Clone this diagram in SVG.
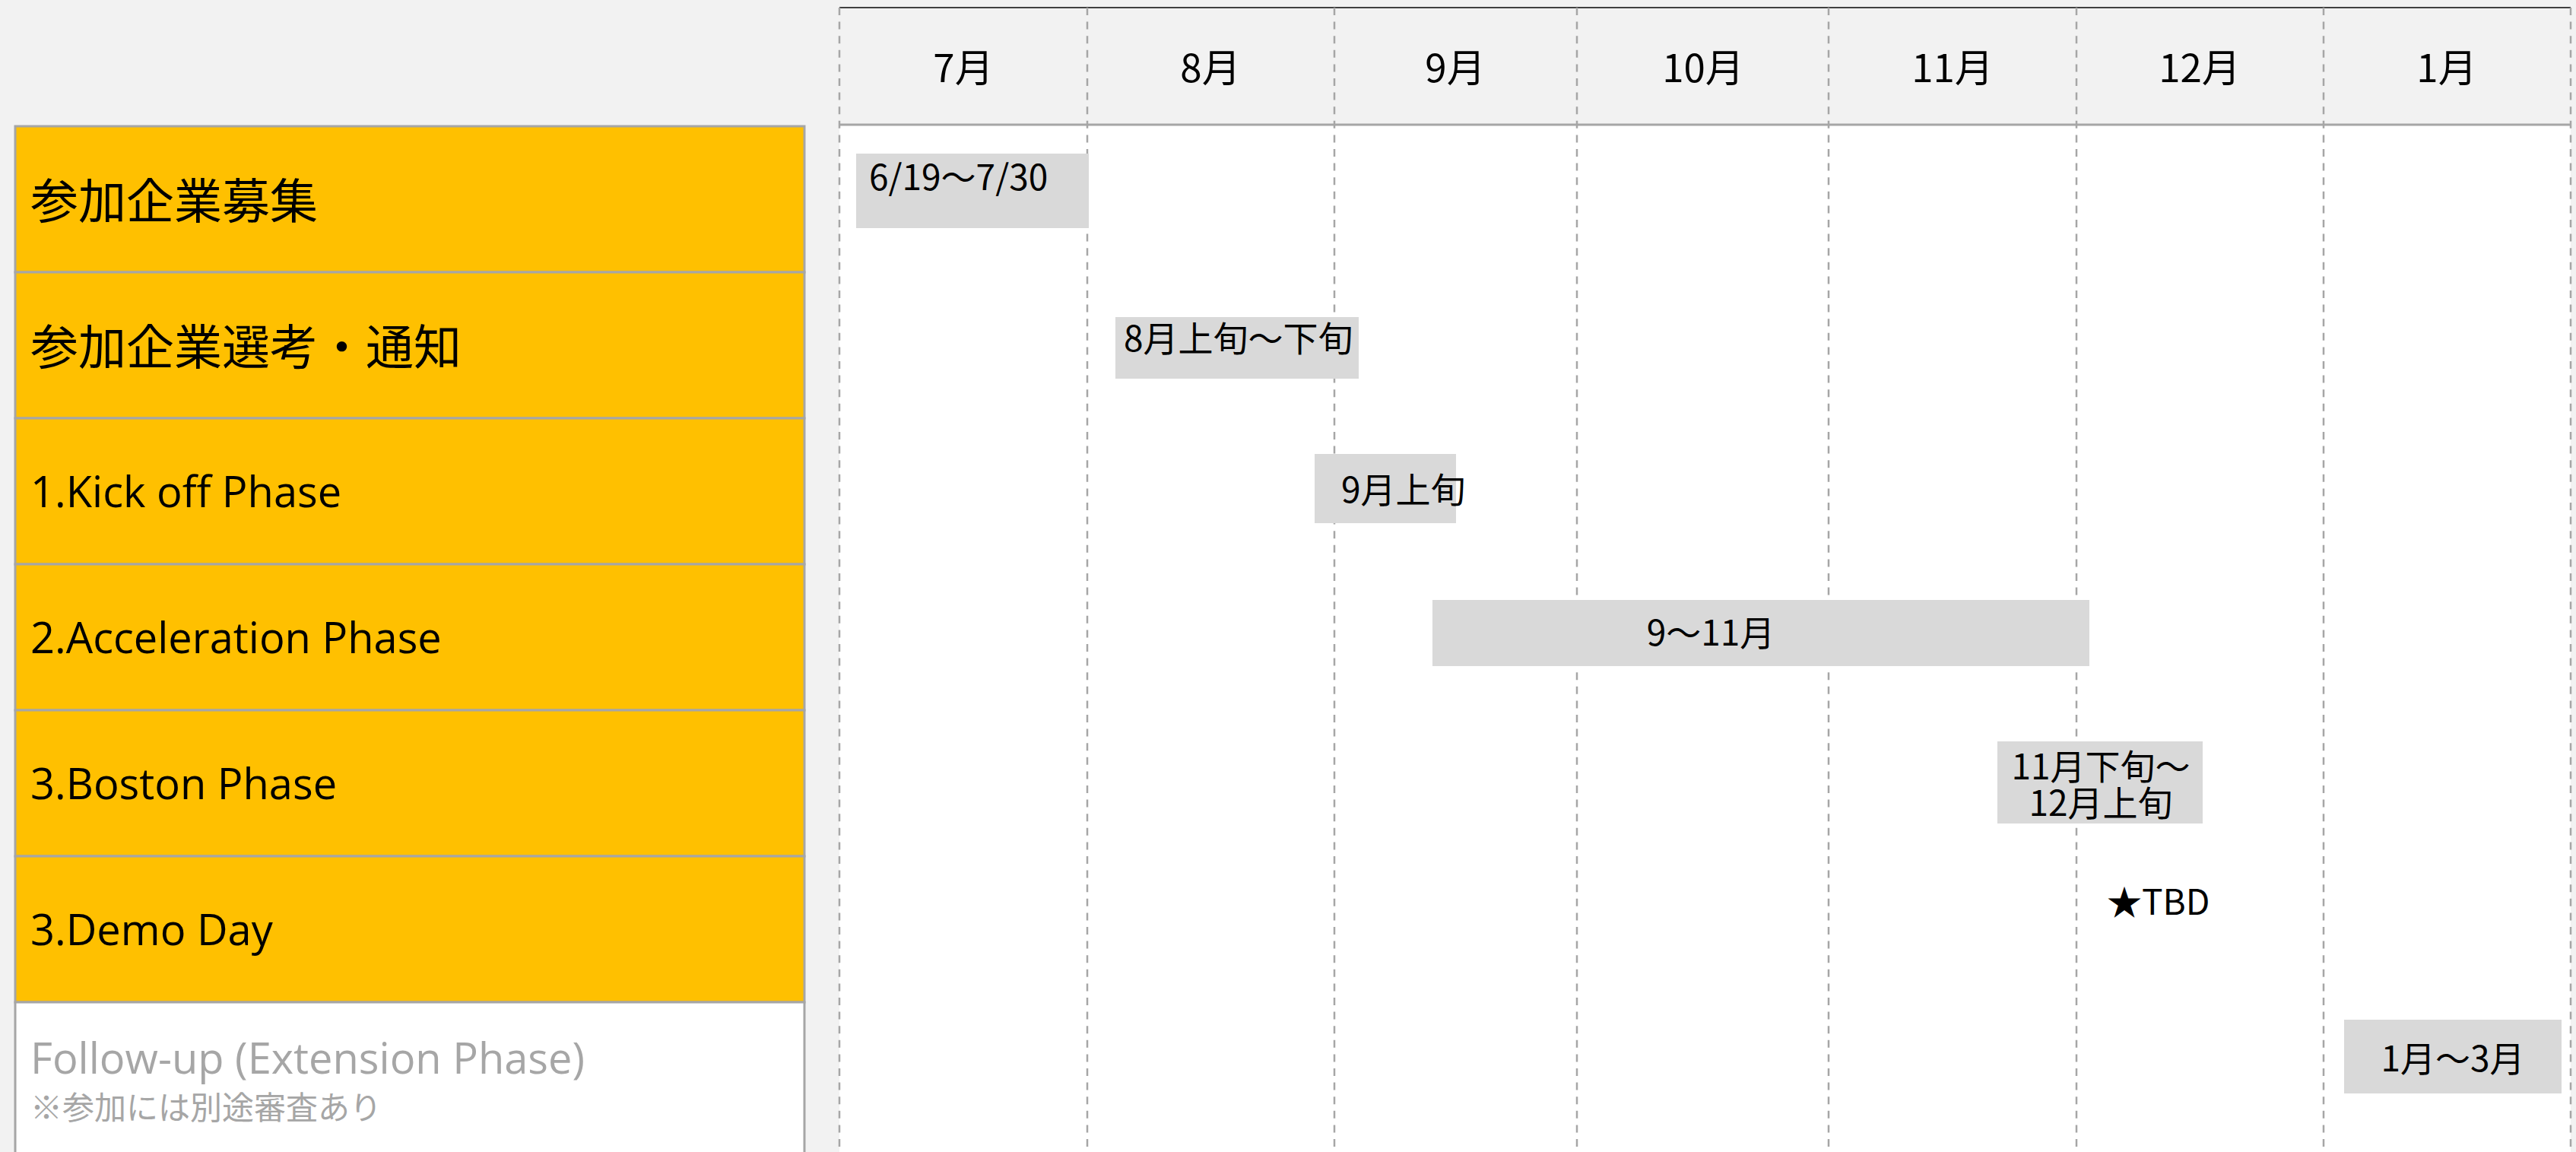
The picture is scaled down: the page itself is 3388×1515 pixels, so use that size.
<svg xmlns="http://www.w3.org/2000/svg" width="3388" height="1515" viewBox="0 0 3388 1515">
<style>
.lbl{fill:#ffc000;stroke:#a6a6a6;stroke-width:3}
.lblw{fill:#ffffff;stroke:#a6a6a6;stroke-width:3}
.jp{font-family:"Noto Sans CJK JP","Noto Sans",sans-serif;fill:#000}
.lat{font-family:"Open Sans","Noto Sans","Noto Sans CJK JP",sans-serif;fill:#000}
.rowjp{font-size:63px}
.rowlat{font-size:56px}
.mon{font-size:51px}
.bartxt{font-size:46px}
.bar{fill:#d9d9d9}
.grid{stroke:#a6a6a6;stroke-width:2.5;stroke-dasharray:10 8.6;fill:none}
</style>
<rect x="0" y="0" width="3388" height="1515" fill="#f2f2f2"/>
<g id="timeline-bg">
<rect x="1104" y="164" width="2277" height="1351" fill="#ffffff"/>
<rect x="1104" y="10" width="2277" height="154" fill="#f2f2f2"/>
<line x1="1104" y1="10" x2="3381" y2="10" stroke="#404040" stroke-width="2"/>
<line x1="1104" y1="164" x2="3381" y2="164" stroke="#a6a6a6" stroke-width="3"/>
</g>
<g id="gridlines">
<line class="grid" x1="1104" y1="10" x2="1104" y2="1515"/>
<line class="grid" x1="1430" y1="10" x2="1430" y2="1515"/>
<line class="grid" x1="1755" y1="10" x2="1755" y2="1515"/>
<line class="grid" x1="2074" y1="10" x2="2074" y2="1515"/>
<line class="grid" x1="2405" y1="10" x2="2405" y2="1515"/>
<line class="grid" x1="2731" y1="10" x2="2731" y2="1515"/>
<line class="grid" x1="3056" y1="10" x2="3056" y2="1515"/>
<line class="grid" x1="3381" y1="10" x2="3381" y2="1515"/>
</g>
<g id="months" class="jp mon" text-anchor="middle" dominant-baseline="central">
<text x="1267" y="86">7月</text>
<text x="1592" y="86">8月</text>
<text x="1914" y="86">9月</text>
<text x="2240" y="86">10月</text>
<text x="2568" y="86">11月</text>
<text x="2893" y="86">12月</text>
<text x="3218" y="86">1月</text>
</g>
<g id="row-recruit">
<rect class="lbl" x="20" y="166" width="1038" height="192"/>
<text class="jp rowjp" x="40" y="259" dominant-baseline="central">参加企業募集</text>
</g>
<g id="row-selection">
<rect class="lbl" x="20" y="358" width="1038" height="192"/>
<text class="jp rowjp" x="40" y="451" dominant-baseline="central">参加企業選考・通知</text>
</g>
<g id="row-kickoff">
<rect class="lbl" x="20" y="550" width="1038" height="192"/>
<text class="lat rowlat" x="40" y="667">1.Kick off Phase</text>
</g>
<g id="row-acceleration">
<rect class="lbl" x="20" y="742" width="1038" height="192"/>
<text class="lat rowlat" x="40" y="859">2.Acceleration Phase</text>
</g>
<g id="row-boston">
<rect class="lbl" x="20" y="934" width="1038" height="192"/>
<text class="lat rowlat" x="40" y="1051">3.Boston Phase</text>
</g>
<g id="row-demoday">
<rect class="lbl" x="20" y="1126" width="1038" height="192"/>
<text class="lat rowlat" x="40" y="1243">3.Demo Day</text>
</g>
<g id="row-followup">
<rect class="lblw" x="20" y="1318" width="1038" height="210"/>
<text class="lat rowlat" x="40" y="1412" style="fill:#a6a6a6">Follow-up (Extension Phase)</text>
<text class="jp" x="40" y="1453" font-size="42" dominant-baseline="central" style="fill:#a6a6a6">※参加には別途審査あり</text>
</g>
<g id="bar-recruit">
<rect class="bar" x="1126" y="202" width="306" height="98"/>
<text class="jp bartxt" x="1143" y="230" dominant-baseline="central">6/19〜7/30</text>
</g>
<g id="bar-selection">
<rect class="bar" x="1467" y="417" width="320" height="81"/>
<text class="jp bartxt" x="1478" y="442" dominant-baseline="central">8月上旬〜下旬</text>
</g>
<g id="bar-kickoff">
<rect class="bar" x="1729" y="597" width="186" height="91"/>
<text class="jp bartxt" x="1764" y="641" dominant-baseline="central">9月上旬</text>
</g>
<g id="bar-acceleration">
<rect class="bar" x="1884" y="789" width="864" height="87"/>
<text class="jp bartxt" x="2250" y="829" text-anchor="middle" dominant-baseline="central">9〜11月</text>
</g>
<g id="bar-boston">
<rect class="bar" x="2627" y="975" width="270" height="108"/>
<text class="jp bartxt" x="2763" y="1005" text-anchor="middle" dominant-baseline="central">11月下旬〜</text>
<text class="jp bartxt" x="2763" y="1053" text-anchor="middle" dominant-baseline="central">12月上旬</text>
</g>
<g id="mark-demoday">
<text class="jp bartxt" x="2771" y="1183" dominant-baseline="central">★TBD</text>
</g>
<g id="bar-followup">
<rect class="bar" x="3083" y="1341" width="286" height="97"/>
<text class="jp bartxt" x="3226" y="1389" text-anchor="middle" dominant-baseline="central">1月〜3月</text>
</g>
<g id="connectors"></g>
</svg>
